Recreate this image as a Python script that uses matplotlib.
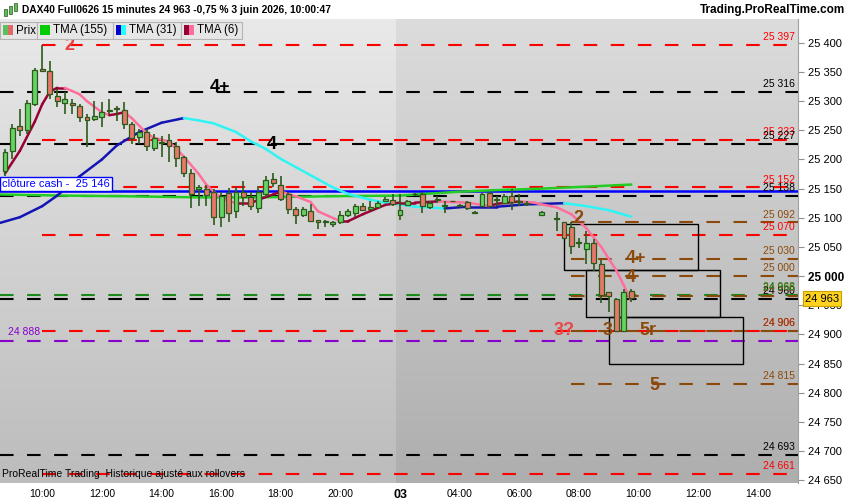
import numpy as np
import matplotlib.pyplot as plt
from matplotlib.colors import LinearSegmentedColormap
from matplotlib.patches import Rectangle

plt.rcParams['font.family'] = ['Liberation Sans', 'DejaVu Sans']

# bougies 15 minutes, index de barre 0..84 (8:45 le 2 -> 9:45 le 3)
nan = np.nan
bar_open = [25180, 25214, 25257, 25250, 25295, 25355, 25352, 25309, 25297, 25297,
            25292, 25273, 25269, 25273, 25284, 25286, 25285, 25261, 25238, 25247,
            25219, 25230, 25233, 25223, 25204, 25176, 25150, 25149, 25144, 25102,
            25142, 25111, 25145, 25135, 25116, 25140, 25166, 25157, 25140, 25115,
            25104, 25111, 25097, 25095, 25090, 25092, 25104, 25108, 25121, 25115,
            25118, 25128, 25130, 25104, 25122, 25141, 25140, 25118, 25130, 25120,
            25128, 25121, 25127, 25109, 25121, 25142, 25130, 25125, 25137, 25128,
            25126, nan, 25104, nan, 25100, 25092, 25085, 25058, 25046, 25056,
            25020, 24973, 24960, 24905, 24975]
bar_high = [25218, 25261, 25286, 25302, 25357, 25397, 25369, 25321, 25316, 25303,
            25295, 25278, 25300, 25298, 25303, 25292, 25298, 25264, 25252, 25252,
            25243, 25240, 25243, 25230, 25206, 25183, 25156, 25157, 25149, 25145,
            25151, 25152, 25163, 25144, 25154, 25171, 25176, 25171, 25145, 25118,
            25118, 25123, 25097, 25097, 25094, 25111, 25115, 25123, 25126, 25128,
            25128, 25135, 25140, 25140, 25130, 25143, 25144, 25128, 25138, 25128,
            25129, 25123, 25129, 25111, 25143, 25145, 25137, 25140, 25149, 25140,
            25128, nan, 25111, nan, 25110, 25092, 25092, 25066, 25077, 25063,
            25028, 24973, 24963, 24977, 24978]
bar_low = [25172, 25200, 25240, 25243, 25292, 25350, 25304, 25290, 25278, 25278,
           25264, 25221, 25266, 25256, 25278, 25266, 25252, 25226, 25226, 25214,
           25214, 25204, 25195, 25187, 25170, 25116, 25120, 25120, 25087, 25085,
           25092, 25099, 25120, 25114, 25109, 25135, 25152, 25128, 25106, 25089,
           25101, 25092, 25080, 25085, 25085, 25089, 25101, 25102, 25111, 25114,
           25118, 25128, 25120, 25097, 25120, 25138, 25109, 25115, 25126, 25109,
           25127, 25120, 25114, 25108, 25119, 25118, 25121, 25123, 25113, 25121,
           25121, nan, 25103, nan, 25077, 25063, 25037, 25048, 25020, 25008,
           24954, 24939, 24905, 24905, 24955]
bar_close = [25212, 25254, 25250, 25297, 25354, 25352, 25312, 25300, 25303, 25293,
             25273, 25268, 25274, 25281, 25285, 25287, 25261, 25237, 25247, 25223,
             25237, 25228, 25223, 25202, 25176, 25140, 25152, 25139, 25102, 25137,
             25109, 25145, 25135, 25120, 25145, 25164, 25159, 25132, 25115, 25104,
             25115, 25095, 25092, 25093, 25092, 25104, 25111, 25121, 25114, 25118,
             25126, 25133, 25123, 25113, 25128, 25140, 25121, 25125, 25131, 25121,
             25128, 25122, 25116, 25110, 25140, 25120, 25131, 25137, 25127, 25127,
             25123, nan, 25110, nan, 25098, 25066, 25051, 25057, 25056, 25022,
             24968, 24965, 24905, 24973, 24963]

# moyennes mobiles triangulaires
tma6_idx = [0, 2, 4, 5, 6, 7, 8, 10, 11, 13, 14, 15, 16, 17, 19, 20, 22, 24, 26, 27,
            29, 31, 33, 34, 36, 37, 39, 41, 42, 45, 46, 48, 51, 53, 55, 58, 62, 65,
            66, 69, 71, 72, 74, 76, 78, 80, 82, 83, 84]
tma6_val = [25176, 25215, 25265, 25295, 25316, 25323, 25323, 25312, 25300, 25281,
            25276, 25278, 25281, 25271, 25245, 25237, 25231, 25205, 25175, 25157,
            25133, 25125, 25125, 25131, 25140, 25145, 25137, 25127, 25111, 25094,
            25094, 25106, 25122, 25126, 25126, 25128, 25126, 25120, 25124, 25128,
            25126, 25123, 25118, 25106, 25082, 25050, 25010, 24985, 24958]
tma31_idx = [-1, 2, 5, 7, 10, 13, 15, 18, 21, 24, 26, 28, 31, 33, 35, 37, 39, 42, 44,
             46, 49, 51, 53, 55, 59, 62, 66, 70, 75, 78, 81, 84]
tma31_val = [25090, 25101, 25120, 25138, 25171, 25200, 25224, 25247, 25263, 25271,
             25267, 25262, 25247, 25231, 25218, 25201, 25187, 25166, 25152, 25141,
             25131, 25126, 25123, 25119, 25116, 25119, 25119, 25123, 25125, 25120,
             25113, 25102]
tma155_idx = [-1, 8, 16, 26, 34, 44, 53, 60, 65, 72, 79, 84]
tma155_val = [25140, 25138, 25137, 25135, 25135, 25137, 25138, 25144, 25147, 25150,
              25154, 25157]

# niveaux horizontaux
red_levels = [25397, 25233, 25152, 25070, 24906, 24661]
black_levels = [25316, 25227, 25138, 24960, 24693]
brown_levels = [25092, 25030, 25000, 24966, 24906, 24815]
green_level = 24968
purple_level = 24888
cash_close = 25146

# zones (rectangles)
box_x0 = [75, 78, 81]
box_x1 = [93, 96, 99]
box_top = [25090, 25010, 24929]
box_bot = [25010, 24929, 24849]

tick_pos = [5, 13, 21, 29, 37, 45, 53, 61, 69, 77, 85, 93, 101]
tick_lab = ['10:00', '12:00', '14:00', '16:00', '18:00', '20:00', '03',
            '04:00', '06:00', '08:00', '10:00', '12:00', '14:00']

W, H = 850, 500
def fx(x):
    return x / W
def fy(y):
    return 1 - y / H

fig = plt.figure(figsize=(8.5, 5), dpi=100)
fig.patch.set_facecolor('white')
ax = fig.add_axes([0, fy(483), fx(798), (483 - 19) / H])

xmin, xmax = -0.67, 106.4
ymin, ymax = 24645, 25441
day_split = 52.5

grad = np.linspace(0, 1, 200).reshape(-1, 1)
cm_left = LinearSegmentedColormap.from_list('l', ['#e9e9e9', '#bcbcbc'])
cm_right = LinearSegmentedColormap.from_list('r', ['#dcdcdc', '#aeaeae'])
ax.imshow(grad, extent=[xmin, day_split, ymin, ymax], cmap=cm_left, aspect='auto',
          origin='upper', zorder=0)
ax.imshow(grad, extent=[day_split, xmax, ymin, ymax], cmap=cm_right, aspect='auto',
          origin='upper', zorder=0)

dash = (6.5, 6.5)
lw_lv = 1.5
for v in black_levels:
    ax.plot([xmin, xmax], [v, v], color='black', lw=lw_lv, dashes=dash, zorder=2)
ax.plot([xmin, xmax], [green_level] * 2, color='#1a8a1a', lw=lw_lv, dashes=dash, zorder=2)
ax.plot([xmin, xmax], [purple_level] * 2, color='#8800cc', lw=lw_lv, dashes=dash, zorder=2)
for v in red_levels:
    ax.plot([5, xmax], [v, v], color='#ff0000', lw=lw_lv, dashes=dash, zorder=2)
for v in brown_levels:
    ax.plot([76, xmax], [v, v], color='#8b4a0c', lw=lw_lv, dashes=dash, zorder=2)
ax.plot([xmin, xmax], [cash_close] * 2, color='#0000ff', lw=1.8, zorder=3)

# rectangles
for a, b, t, u in zip(box_x0, box_x1, box_top, box_bot):
    ax.add_patch(Rectangle((a, u), b - a, t - u, fill=False, ec='black', lw=1.0, zorder=3))

# moyennes mobiles colorées selon la pente
def colored_line(xs, ys, up, down, lw):
    for i in range(len(xs) - 1):
        c = up if ys[i + 1] >= ys[i] else down
        ax.plot(xs[i:i + 2], ys[i:i + 2], color=c, lw=lw, solid_capstyle='round', zorder=4)

ax.plot(tma155_idx, tma155_val, color='#22cc22', lw=1.8, zorder=4)
colored_line(tma31_idx, tma31_val, '#1414b4', '#30f4f4', 1.8)
colored_line(tma6_idx, tma6_val, '#990033', '#ff6f9c', 1.8)

# bougies
o = np.array(bar_open, float)
h = np.array(bar_high, float)
l = np.array(bar_low, float)
c = np.array(bar_close, float)
idx = np.arange(len(o))
ok = ~np.isnan(o)
edge = '#2c5a1a'
ax.vlines(idx[ok], l[ok], h[ok], color=edge, lw=1.2, zorder=5)
body_col = np.where(c >= o, '#63d463', '#e8776b')
body_h = np.maximum(np.abs(c - o), 1.5)
ax.bar(idx[ok], body_h[ok], bottom=np.minimum(o, c)[ok], width=0.66,
       color=body_col[ok], edgecolor=edge, lw=0.9, zorder=6)

# étiquettes de niveaux à droite
def lvl_label(v, col):
    ax.text(106.0, v + 5, f"{v:,}".replace(',', ' '), color=col, fontsize=7.5,
            ha='right', va='bottom', zorder=7)

for v in red_levels:
    lvl_label(v, '#ff0000')
for v in black_levels:
    lvl_label(v, 'black')
for v in brown_levels:
    lvl_label(v, '#8b4a0c')
lvl_label(green_level, '#1a8a1a')

# annotations de vagues
ax.text(8.7, 25396, '2', color='#e84040', fontsize=13, fontweight='bold', ha='center', va='center', zorder=8)
ax.text(28.9, 25324, '4+', color='black', fontsize=13, fontweight='bold', ha='center', va='center', zorder=8)
ax.text(35.8, 25226, '4', color='black', fontsize=13, fontweight='bold', ha='center', va='center', zorder=8)
brown = '#8b4a0c'
for t, xi, yv in [('2', 76.9, 25099), ('4+', 84.7, 25030), ('4', 83.9, 24997),
                  ('3', 80.9, 24906), ('5r', 86.3, 24906), ('5', 87.1, 24813)]:
    ax.text(xi, yv, t, color=brown, fontsize=13, fontweight='bold', ha='center', va='center', zorder=8)
ax.text(75.0, 24906, '3?', color='#e84848', fontsize=13, fontweight='bold', ha='center', va='center', zorder=8)

ax.text(0.4, purple_level + 8, '24 888', color='#8800cc', fontsize=7.5, ha='left', va='bottom', zorder=7)
ax.text(0.003, 24660, 'ProRealTime Trading  Historique ajusté aux rollovers', color='black',
        fontsize=7.5, ha='left', va='center', zorder=7, transform=ax.get_yaxis_transform())
ax.text(0.003, cash_close + 12, 'clôture cash -  25 146', color='#0000ff', fontsize=8,
        ha='left', va='center', zorder=9, transform=ax.get_yaxis_transform(),
        bbox=dict(boxstyle='square,pad=0.2', fc='white', ec='#0000ff', lw=1))

ax.set_xlim(xmin, xmax)
ax.set_ylim(ymin, ymax)

ax.yaxis.tick_right()
yt = list(range(24650, 25401, 50))
ax.set_yticks(yt)
ax.set_yticklabels([f"{v:,}".replace(',', ' ') for v in yt], fontsize=8)
for lab, v in zip(ax.get_yticklabels(), yt):
    if v == 25000:
        lab.set_fontweight('bold')
        lab.set_fontsize(8.5)
ax.tick_params(axis='y', length=4, color='#909090', pad=3)
ax.set_xticks(tick_pos)
ax.set_xticklabels(tick_lab, fontsize=7.5)
for lab, t in zip(ax.get_xticklabels(), tick_lab):
    if t == '03':
        lab.set_fontweight('bold')
        lab.set_fontsize(9)
ax.tick_params(axis='x', length=0, pad=4)
for s in ['top', 'left', 'bottom']:
    ax.spines[s].set_visible(False)
ax.spines['right'].set_color('#a0a0a0')

# barre de titre, avec petite icône de bougies
for x0, y0, hh, col in [(4, 9, 7, '#5cbf5c'), (9, 6, 8, '#5cbf5c'), (14, 3, 8, '#5cbf5c')]:
    fig.patches.append(Rectangle((fx(x0), fy(y0 + hh)), fx(3), hh / H, transform=fig.transFigure,
                                 fc=col, ec='#2c5a1a', lw=0.5, zorder=2))
fig.text(fx(22), fy(10), 'DAX40 Full0626 15 minutes 24 963 -0,75 % 3 juin 2026, 10:00:47',
         fontsize=7.4, fontweight='bold', ha='left', va='center')
fig.text(fx(845), fy(10), 'Trading.ProRealTime.com', fontsize=8.5, fontweight='bold',
         ha='right', va='center')

# légende
legend_items = [('Prix', 0, 37, '#5cbf5c', '#e06868'),
                ('TMA (155)', 37, 113, '#00cc00', '#00cc00'),
                ('TMA (31)', 113, 181, '#0000cc', '#22ffff'),
                ('TMA (6)', 181, 242, '#990033', '#ff6f9c')]
for name, x0, x1, c1, c2 in legend_items:
    fig.patches.append(Rectangle((fx(x0), fy(39)), fx(x1 - x0), 17 / H, transform=fig.transFigure,
                                 fc='#e6e6e6', ec='#b4b4b4', lw=0.8, zorder=2))
    fig.patches.append(Rectangle((fx(x0 + 3), fy(35)), fx(5), 10 / H, transform=fig.transFigure,
                                 fc=c1, ec='none', zorder=3))
    fig.patches.append(Rectangle((fx(x0 + 8), fy(35)), fx(5), 10 / H, transform=fig.transFigure,
                                 fc=c2, ec='none', zorder=3))
    fig.text(fx(x0 + 16), fy(30.5), name, fontsize=8.3, ha='left', va='center', zorder=4)

# étiquette du dernier cours
fig.patches.append(Rectangle((fx(803), fy(306)), fx(38), 15 / H, transform=fig.transFigure,
                             fc='#ffd21f', ec='#c8a000', lw=0.8, zorder=2))
fig.text(fx(822), fy(298.5), '24 963', fontsize=8, ha='center', va='center', zorder=4)

fig.savefig('out.png', dpi=100)
